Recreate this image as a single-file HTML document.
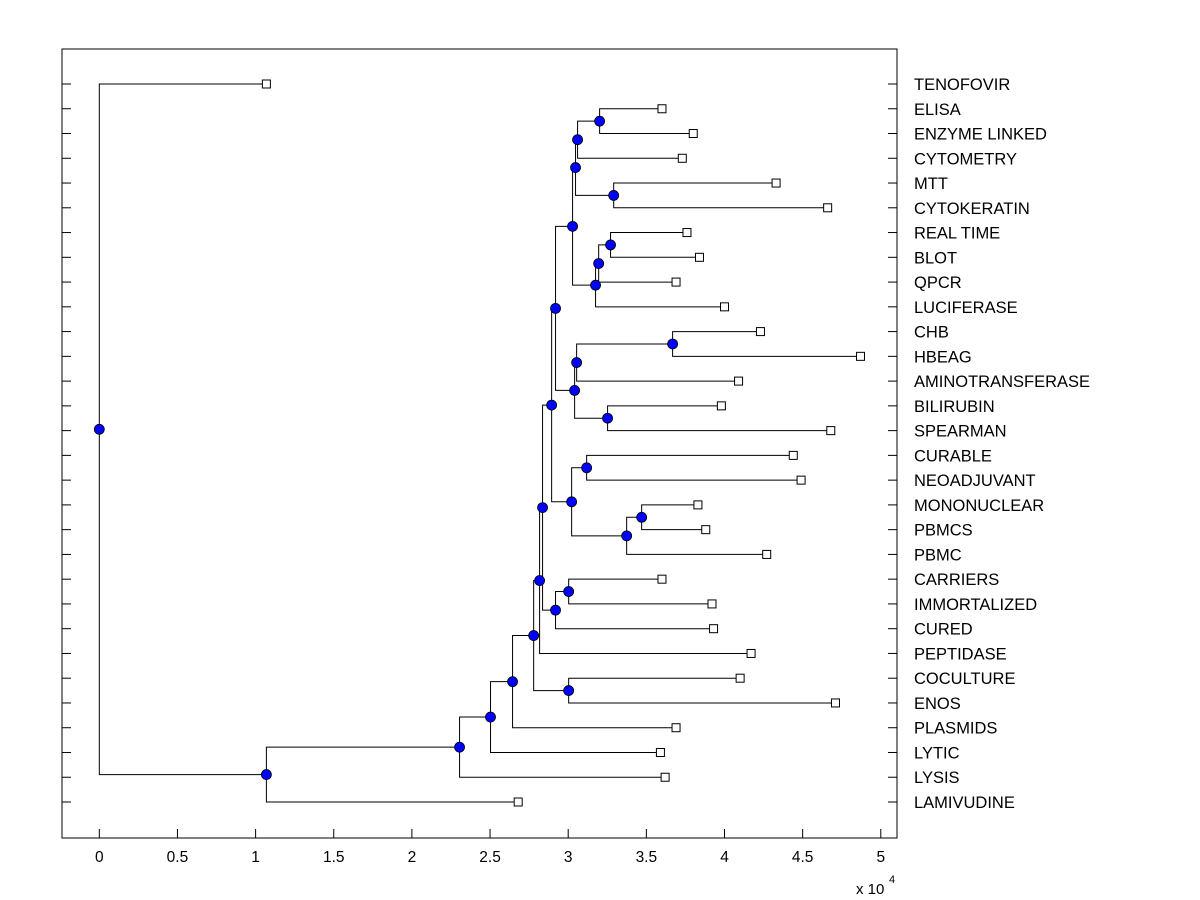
<!DOCTYPE html>
<html><head><meta charset="utf-8"><style>
body{margin:0;background:#fff;width:1200px;height:900px;overflow:hidden}
svg{display:block;font-family:"Liberation Sans",Arial,sans-serif}
</style></head><body>
<svg id="chart" width="1200" height="900" xmlns="http://www.w3.org/2000/svg">
<rect x="0" y="0" width="1200" height="900" fill="#fff"/>
<g id="links"></g><g id="marks"></g><g id="axes"></g>
</svg>
<script>
const leafNames=["TENOFOVIR","ELISA","ENZYME LINKED","CYTOMETRY","MTT","CYTOKERATIN","REAL TIME","BLOT","QPCR","LUCIFERASE","CHB","HBEAG","AMINOTRANSFERASE","BILIRUBIN","SPEARMAN","CURABLE","NEOADJUVANT","MONONUCLEAR","PBMCS","PBMC","CARRIERS","IMMORTALIZED","CURED","PEPTIDASE","COCULTURE","ENOS","PLASMIDS","LYTIC","LYSIS","LAMIVUDINE"];
const leafValues=[1.069,3.60,3.80,3.73,4.33,4.66,3.76,3.84,3.69,4.00,4.23,4.87,4.09,3.98,4.68,4.44,4.49,3.83,3.88,4.27,3.60,3.92,3.93,4.17,4.10,4.71,3.69,3.59,3.62,2.68];
const nodeNames=["n_elisa","n_cyto","n_mtt","n_top1","n_rt","n_qpcr","n_luc","n_top2","n_chb","n_amino","n_bili","n_mid1","n_upper","n_cur","n_mono","n_pbmc","n_mono2","n_upper2","n_car","n_cured","n_big","n_pep","n_enos","n_big2","n_plas","n_lytic","n_lysis","n_lami","root"];
const nodeValues=[3.201,3.060,3.291,3.047,3.271,3.195,3.175,3.028,3.668,3.054,3.252,3.041,2.919,3.118,3.470,3.374,3.022,2.894,3.003,2.919,2.836,2.817,3.003,2.779,2.644,2.503,2.305,1.069,0];
const nodeChildA=["ELISA","n_elisa","MTT","n_cyto","REAL TIME","n_rt","n_qpcr","n_top1","CHB","n_chb","BILIRUBIN","n_amino","n_top2","CURABLE","MONONUCLEAR","n_mono","n_cur","n_upper","CARRIERS","n_car","n_upper2","n_big","COCULTURE","n_pep","n_big2","n_plas","n_lytic","n_lysis","TENOFOVIR"];
const nodeChildB=["ENZYME LINKED","CYTOMETRY","CYTOKERATIN","n_mtt","BLOT","QPCR","LUCIFERASE","n_luc","HBEAG","AMINOTRANSFERASE","SPEARMAN","n_bili","n_mid1","NEOADJUVANT","PBMCS","PBMC","n_pbmc","n_mono2","IMMORTALIZED","CURED","n_cured","PEPTIDASE","ENOS","n_enos","PLASMIDS","LYTIC","LYSIS","LAMIVUDINE","n_lami"];
const xTicks=[0,0.5,1,1.5,2,2.5,3,3.5,4,4.5,5];
const xTickLabels=["0","0.5","1","1.5","2","2.5","3","3.5","4","4.5","5"];

const NS="http://www.w3.org/2000/svg";
const L=62,R=897,T=49,B=838;
const xs=v=>99.3+v*156.3;
const ys=i=>84+i*(802-84)/(leafNames.length-1);
function mk(tag,attrs,parent){const e=document.createElementNS(NS,tag);for(const k in attrs)e.setAttribute(k,attrs[k]);parent.appendChild(e);return e;}
const links=document.getElementById('links'),marks=document.getElementById('marks'),axes=document.getElementById('axes');
const pos={};
leafNames.forEach((n,i)=>{pos[n]={x:xs(leafValues[i]),y:ys(i)};});
function resolve(n){
  if(pos[n])return pos[n];
  const k=nodeNames.indexOf(n);
  const a=resolve(nodeChildA[k]),b=resolve(nodeChildB[k]);
  const x=xs(nodeValues[k]);
  pos[n]={x:x,y:(a.y+b.y)/2,a:a,b:b};
  return pos[n];
}
nodeNames.forEach(resolve);
nodeNames.forEach((n,k)=>{
  const p=pos[n];
  const path=mk('path',{d:`M${p.a.x},${p.a.y}H${p.x}V${p.b.y}H${p.b.x}`,fill:'none',stroke:'#000','stroke-width':1},links);
  
  
});
nodeNames.forEach(n=>{
  const p=pos[n];
  const c=mk('circle',{cx:p.x,cy:p.y,r:5,fill:'#0000ff',stroke:'#000','stroke-width':0.8},marks);
  
  
});
leafNames.forEach((n,i)=>{
  const p=pos[n];
  const s=mk('rect',{x:p.x-4,y:p.y-4,width:8,height:8,fill:'#fff',stroke:'#000','stroke-width':1},marks);
  
  
  const t=mk('text',{x:914,y:p.y+6,'font-size':16.5,fill:'#000'},axes);
  t.textContent=n;
  
  
  mk('line',{x1:L,x2:L+9,y1:p.y,y2:p.y,stroke:'#000'},axes);
  mk('line',{x1:R-9,x2:R,y1:p.y,y2:p.y,stroke:'#000'},axes);
});
const box=mk('rect',{x:L,y:T,width:R-L,height:B-T,fill:'none',stroke:'#000','stroke-width':1},axes);


xTicks.forEach((v,i)=>{
  const x=xs(v);
  mk('line',{x1:x,x2:x,y1:B-9,y2:B,stroke:'#000'},axes);
  const t=mk('text',{x:x,y:862,'font-size':15.5,'text-anchor':'middle',fill:'#000'},axes);
  t.textContent=xTickLabels[i];
  
  
});
const ex=mk('text',{x:856,y:894,'font-size':15,fill:'#000'},axes);
ex.textContent='x 10';


const sup=mk('text',{x:889,y:883,'font-size':11,fill:'#000'},axes);
sup.textContent='4';


</script>
</body></html>
